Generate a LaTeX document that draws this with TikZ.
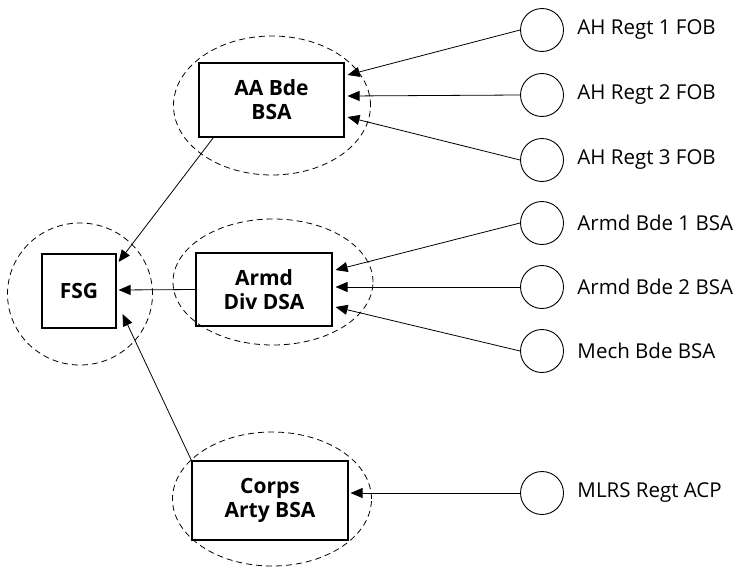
\documentclass[tikz,border=0pt]{standalone}
\usepackage{fontspec}
\setmainfont{Open Sans}
\usetikzlibrary{arrows.meta,shapes.geometric}

\begin{document}
\begin{tikzpicture}[
    x = 1pt,
    y = -1pt,
    >={Triangle[length=12pt,width=10pt]},
    font = \fontsize{20.5}{24}\selectfont,
    unit/.style = {
      draw,
      line width = 1.1pt,
      align = center,
      font = \fontsize{21}{24}\selectfont\bfseries,
      inner sep = 0pt
    },
    zone/.style = {
      draw,
      ellipse,
      dash pattern = on 6pt off 4pt,
      line width = 0.8pt,
      inner sep = 0pt
    },
    post/.style = {
      draw,
      circle,
      line width = 0.9pt,
      inner sep = 0pt,
      minimum size = 43pt
    },
    link/.style = {->, line width = 0.8pt}
  ]
  \useasboundingbox (0,0) rectangle (741,570);

  % support zones
  \node[zone, minimum width=145pt, minimum height=142pt] (fsgzone) at (80,294) {};
  \node[zone, minimum width=197pt, minimum height=139pt] (aazone) at (272,105.5) {};
  \node[zone, minimum width=200pt, minimum height=126pt] (armdzone) at (273,282) {};
  \node[zone, minimum width=199pt, minimum height=134pt] (corpszone) at (272,499) {};

  % support areas
  \node[unit, minimum width=74pt, minimum height=74pt] (fsg) at (79,291) {FSG};
  \node[unit, minimum width=145pt, minimum height=74pt] (aa) at (271.5,100) {AA Bde\\BSA};
  \node[unit, minimum width=136pt, minimum height=73pt] (armd) at (264,289.5) {Armd\\Div DSA};
  \node[unit, minimum width=156pt, minimum height=79pt] (corps) at (270,500.5) {Corps\\Arty BSA};

  % forward points
  \node[post, label={[label distance=10pt]right:AH Regt 1 FOB}] (ah1) at (542,30) {};
  \node[post, label={[label distance=10pt]right:AH Regt 2 FOB}] (ah2) at (542,95) {};
  \node[post, label={[label distance=10pt]right:AH Regt 3 FOB}] (ah3) at (542,160) {};
  \node[post, label={[label distance=10pt]right:Armd Bde 1 BSA}] (ab1) at (542,223) {};
  \node[post, label={[label distance=10pt]right:Armd Bde 2 BSA}] (ab2) at (542,287) {};
  \node[post, label={[label distance=10pt]right:Mech Bde BSA}] (mech) at (542,351) {};
  \node[post, label={[label distance=10pt]right:MLRS Regt ACP}] (mlrs) at (542,493) {};

  % flows
  \draw[link] (ah1.west) -- ([xshift=3pt, yshift=25pt]aa.east);
  \draw[link] (ah2.west) -- ([xshift=3pt, yshift=4pt]aa.east);
  \draw[link] (ah3.west) -- ([xshift=3pt, yshift=-17pt]aa.east);
  \draw[link] (ab1.west) -- ([xshift=3pt, yshift=19.5pt]armd.east);
  \draw[link] (ab2.west) -- ([xshift=3pt, yshift=2.5pt]armd.east);
  \draw[link] (mech.west) -- ([xshift=3pt, yshift=-17.5pt]armd.east);
  \draw[link] (mlrs.west) -- ([xshift=2pt, yshift=7.5pt]corps.east);

  \draw[link] ([xshift=15pt]aa.south west) -- ([xshift=2pt, yshift=29pt]fsg.east);
  \draw[link] (armd.west) -- ([xshift=2pt, yshift=1pt]fsg.east);
  \draw[link] (corps.north west) -- ([xshift=6pt, yshift=-23pt]fsg.east);
\end{tikzpicture}
\end{document}
